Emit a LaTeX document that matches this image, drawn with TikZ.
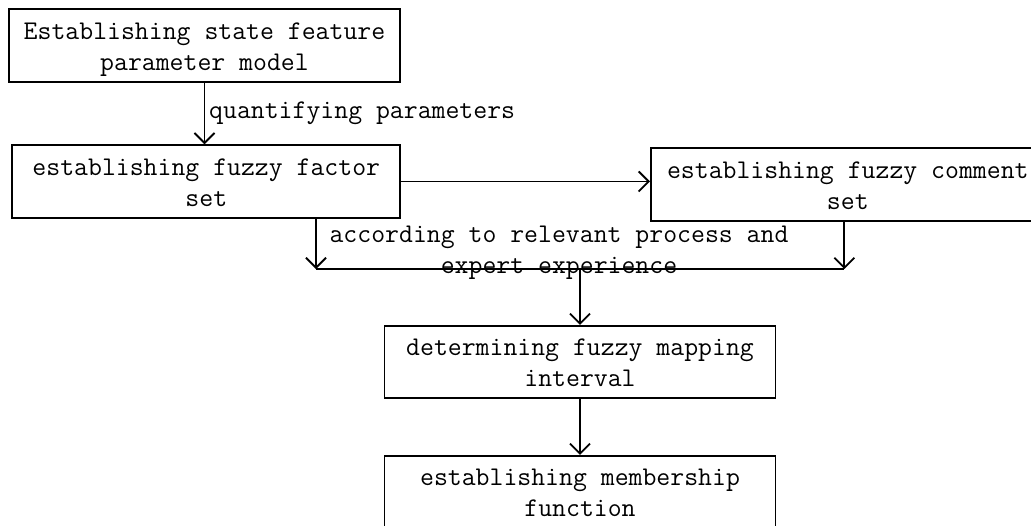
\documentclass[tikz,border=0pt]{standalone}
\usepackage{fontspec}
\usetikzlibrary{positioning,arrows.meta}

\begin{document}
\begin{tikzpicture}[x=1pt,y=-1pt,
        font=\ttfamily\fontsize{27}{31}\selectfont,
        stepbox/.style={rectangle, draw=black, line width=1.8pt, align=center,
            minimum width=391pt, minimum height=72.5pt, inner sep=0pt,
            text height=61pt, text depth=11.5pt},
        flow/.style={line width=1.8pt, -{Straight Barb[length=10pt,width=20pt,line width=1.8pt]}}]
        \clip (0,0) rectangle (1031,525);
        \node[stepbox] (model) at (204.5,45.5) {Establishing state feature\\parameter model};
        \node[stepbox,minimum width=388pt] (factorset) [below=61.6pt of model, xshift=1.8pt] {establishing fuzzy factor\\set};
        \node[stepbox,minimum width=394pt] (commentset) [right=248.7pt of factorset, yshift=-3pt] {establishing fuzzy comment\\set};
        \node[stepbox] (interval) at (580,362) {determining fuzzy mapping\\interval};
        \node[stepbox] (membership) [below=55.7pt of interval] {establishing membership\\function};
        \node[anchor=base west, inner sep=0pt] (quantify) at (209,118) {quantifying parameters};
        \node[anchor=base, align=center, inner sep=0pt] (experience) at (559,273) {according to relevant process and\\expert experience};
        \coordinate (jl) at (316,269);
        \coordinate (jr) at (844.3,269);
        \draw[flow] (model.south) -- (model.south |- factorset.north);
        \draw[flow] (factorset.east) -- (factorset.east -| commentset.west);
        \draw[flow] (factorset.south -| jl) -- (jl);
        \draw[flow] (commentset.south -| jr) -- (jr);
        \draw[line width=1.8pt] (jl) -- (jr);
        \draw[flow] (jl -| interval.north) -- (interval.north);
        \draw[flow] (interval) -- (membership);
\end{tikzpicture}
\end{document}
